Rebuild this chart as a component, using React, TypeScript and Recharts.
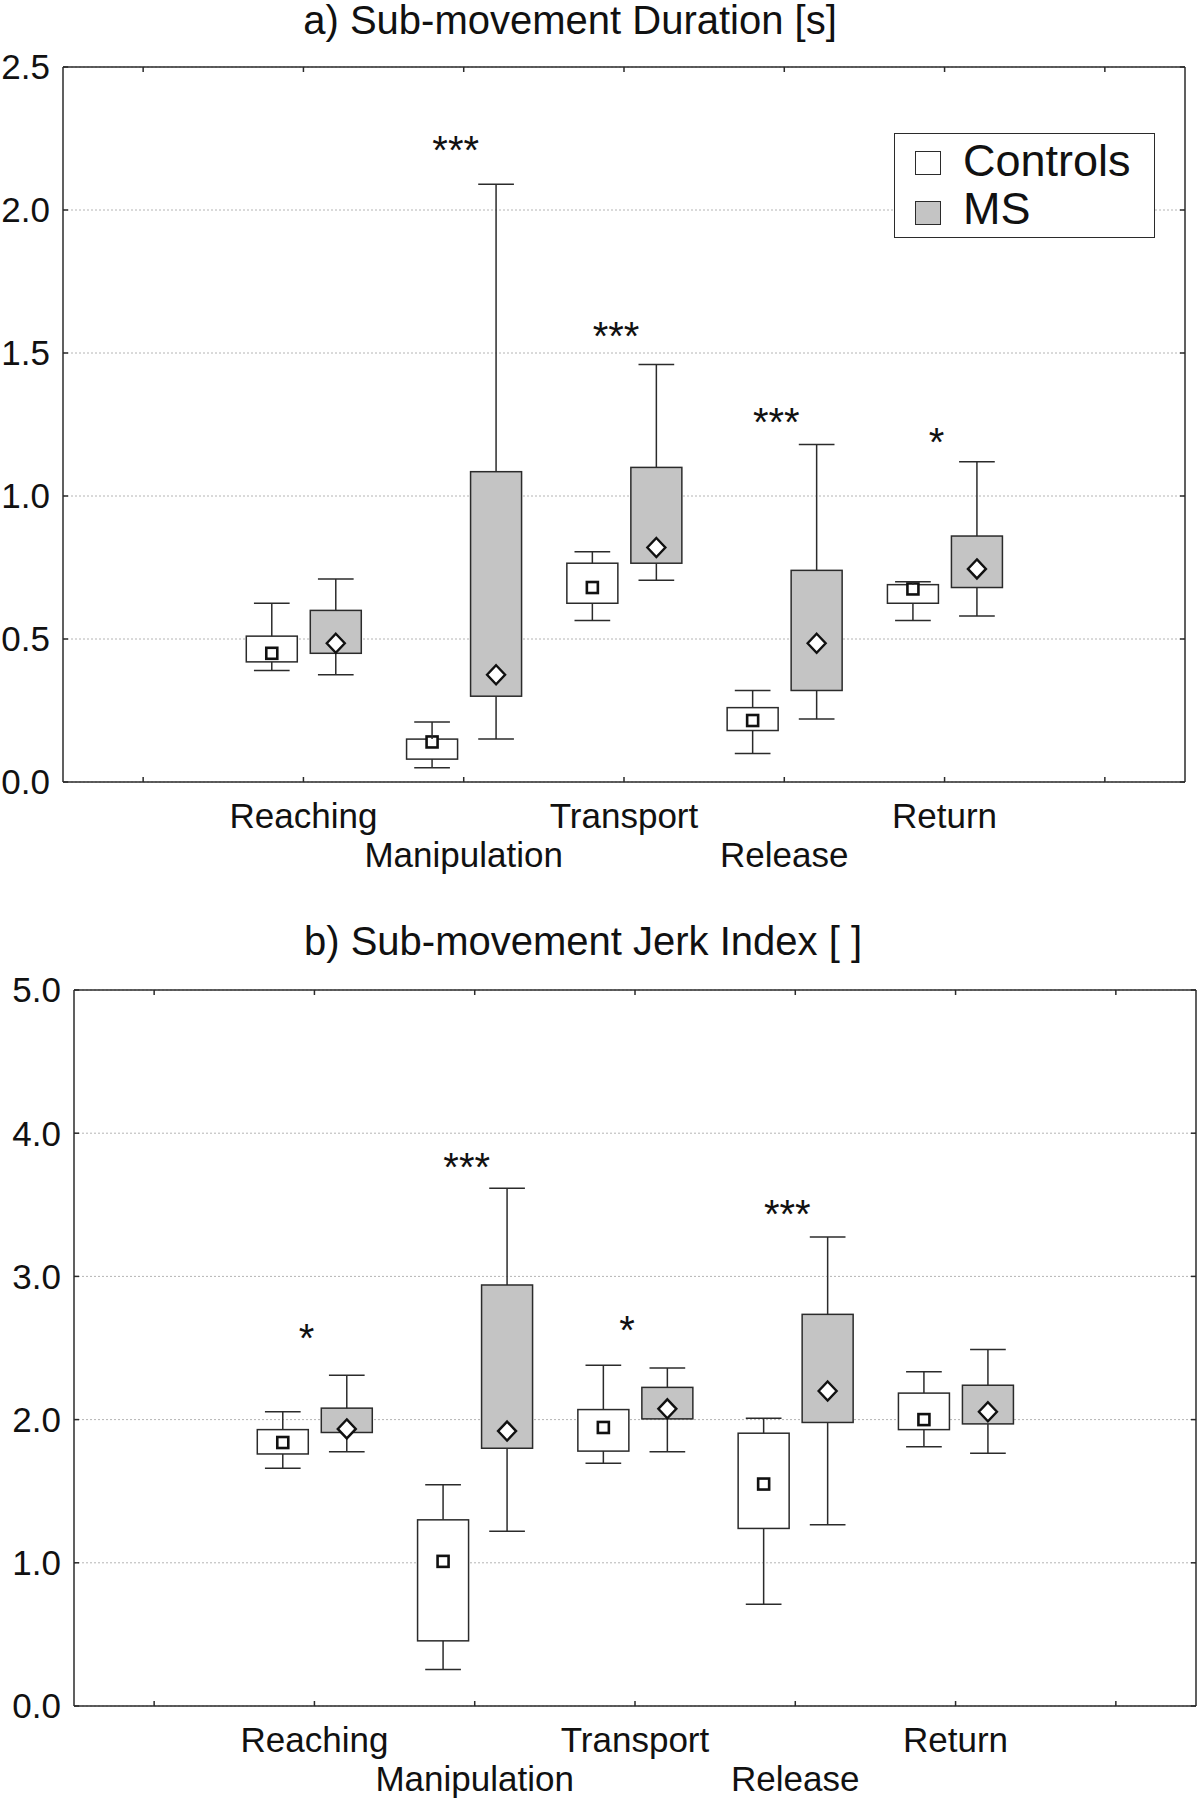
import React from "react";
import { ComposedChart, Bar, Scatter, XAxis, YAxis, CartesianGrid, Legend } from "recharts";

const categories = ["Reaching", "Manipulation", "Transport", "Release", "Return"];
const groupNames = ["Controls", "MS"];

// a) sub-movement duration [s]
const durCtrlMin = [0.39, 0.05, 0.565, 0.1, 0.565];
const durCtrlQ1 = [0.42, 0.08, 0.625, 0.18, 0.625];
const durCtrlQ3 = [0.51, 0.15, 0.765, 0.26, 0.69];
const durCtrlMax = [0.625, 0.21, 0.805, 0.32, 0.7];
const durCtrlMean = [0.45, 0.14, 0.68, 0.215, 0.675];
const durMsMin = [0.375, 0.15, 0.705, 0.22, 0.58];
const durMsQ1 = [0.45, 0.3, 0.765, 0.32, 0.68];
const durMsQ3 = [0.6, 1.085, 1.1, 0.74, 0.86];
const durMsMax = [0.71, 2.09, 1.46, 1.18, 1.12];
const durMsMean = [0.485, 0.375, 0.82, 0.485, 0.745];
const durSig = ["", "***", "***", "***", "*"];
const durSigLevel = [0, 2.24, 1.59, 1.29, 1.22];
const durTicks = [0, 0.5, 1, 1.5, 2, 2.5];

// b) sub-movement jerk index
const jerkCtrlMin = [1.66, 0.255, 1.695, 0.71, 1.81];
const jerkCtrlQ1 = [1.76, 0.455, 1.78, 1.24, 1.93];
const jerkCtrlQ3 = [1.93, 1.3, 2.07, 1.905, 2.185];
const jerkCtrlMax = [2.055, 1.545, 2.38, 2.01, 2.335];
const jerkCtrlMean = [1.84, 1.01, 1.945, 1.55, 2.0];
const jerkMsMin = [1.775, 1.22, 1.775, 1.265, 1.765];
const jerkMsQ1 = [1.91, 1.8, 2.005, 1.98, 1.97];
const jerkMsQ3 = [2.08, 2.94, 2.225, 2.735, 2.24];
const jerkMsMax = [2.31, 3.615, 2.36, 3.275, 2.49];
const jerkMsMean = [1.935, 1.92, 2.075, 2.2, 2.055];
const jerkSig = ["*", "***", "*", "***", ""];
const jerkSigLevel = [2.63, 3.83, 2.69, 3.5, 0];
const jerkTicks = [0, 1, 2, 3, 4, 5];

const FONT = '"Liberation Sans", Arial, Helvetica, sans-serif';
const INK = "#111";
const AXIS = "#2b2b2b";
const MS_FILL = "#c4c4c4";

type Stats = { min: number[]; q1: number[]; q3: number[]; max: number[]; mean: number[] };

function buildRows(c: Stats, m: Stats, sig: string[], sigLevel: number[]) {
  const rows: any[] = [{ name: "pad-left" }];
  categories.forEach((name, i) => {
    rows.push({
      name,
      cBase: c.min[i],
      cLow: c.q1[i] - c.min[i],
      cBox: c.q3[i] - c.q1[i],
      cHigh: c.max[i] - c.q3[i],
      cQ1: c.q1[i],
      cQ3: c.q3[i],
      cMean: c.mean[i],
      mBase: m.min[i],
      mLow: m.q1[i] - m.min[i],
      mBox: m.q3[i] - m.q1[i],
      mHigh: m.max[i] - m.q3[i],
      mQ1: m.q1[i],
      mQ3: m.q3[i],
      mMean: m.mean[i],
      sig: sig[i],
      sigY: sig[i] ? sigLevel[i] : null,
    });
  });
  rows.push({ name: "pad-right" });
  return rows;
}

const durRows = buildRows(
  { min: durCtrlMin, q1: durCtrlQ1, q3: durCtrlQ3, max: durCtrlMax, mean: durCtrlMean },
  { min: durMsMin, q1: durMsQ1, q3: durMsQ3, max: durMsMax, mean: durMsMean },
  durSig,
  durSigLevel
);
const jerkRows = buildRows(
  { min: jerkCtrlMin, q1: jerkCtrlQ1, q3: jerkCtrlQ3, max: jerkCtrlMax, mean: jerkCtrlMean },
  { min: jerkMsMin, q1: jerkMsQ1, q3: jerkMsQ3, max: jerkMsMax, mean: jerkMsMean },
  jerkSig,
  jerkSigLevel
);

const Empty = () => <g />;

function whiskerShape(end: "low" | "high") {
  return (p: any) => {
    const { x, y, width, height } = p;
    if (![x, y, width, height].every(Number.isFinite) || !height) return <g />;
    const top = Math.min(y, y + height);
    const bot = Math.max(y, y + height);
    const cx = x + width / 2;
    const capY = end === "high" ? top : bot;
    const half = width * 0.35;
    return (
      <g stroke={AXIS} strokeWidth={1.5}>
        <line x1={cx} x2={cx} y1={top} y2={bot} />
        <line x1={cx - half} x2={cx + half} y1={capY} y2={capY} />
      </g>
    );
  };
}

// box from q1..q3, mean marker placed with the same scale as the box edges
function boxShape(g: "c" | "m") {
  return (p: any) => {
    const { x, y, width, height, payload } = p;
    const q1 = payload?.[g + "Q1"];
    const q3 = payload?.[g + "Q3"];
    const mean = payload?.[g + "Mean"];
    if (q1 == null || !Number.isFinite(y) || !height) return <g />;
    const top = Math.min(y, y + height);
    const bot = Math.max(y, y + height);
    const my = top + ((q3 - mean) / (q3 - q1)) * (bot - top);
    const cx = x + width / 2;
    return (
      <g>
        <rect x={x} y={top} width={width} height={bot - top} fill={g === "c" ? "#fff" : MS_FILL} stroke={AXIS} strokeWidth={1.5} />
        {g === "c" ? (
          <rect x={cx - 5.5} y={my - 5.5} width={11} height={11} fill="#fff" stroke={INK} strokeWidth={2.6} />
        ) : (
          <polygon points={`${cx},${my - 9.5} ${cx + 9},${my} ${cx},${my + 9.5} ${cx - 9},${my}`} fill="#fff" stroke={INK} strokeWidth={2.4} />
        )}
      </g>
    );
  };
}

const StarMark = (p: any) => {
  const { cx, cy, payload } = p;
  if (!payload?.sig || !Number.isFinite(cy)) return <g />;
  return (
    <text x={cx - 8} y={cy + 23} textAnchor="middle" fontSize={40} fontFamily={FONT} fill={INK}>
      {payload.sig}
    </text>
  );
};

const CategoryTick = (p: any) => {
  const { x, y, payload } = p;
  const i = categories.indexOf(payload.value);
  if (i < 0) return <g />;
  return (
    <text x={x} y={y + (i % 2 === 0 ? 46 : 85)} textAnchor="middle" fontSize={35} fontFamily={FONT} fill={INK}>
      {payload.value}
    </text>
  );
};

const LegendBox = () => (
  <div
    style={{
      position: "relative",
      width: 261,
      height: 105,
      border: `1.5px solid ${AXIS}`,
      boxSizing: "border-box",
      background: "#fff",
      fontFamily: FONT,
    }}
  >
    {groupNames.map((n, i) => (
      <React.Fragment key={n}>
        <div
          style={{
            position: "absolute",
            left: 20,
            top: 17 + i * 50,
            width: 26,
            height: 24,
            boxSizing: "border-box",
            border: `1.5px solid ${AXIS}`,
            background: i ? MS_FILL : "#fff",
          }}
        />
        <div
          style={{
            position: "absolute",
            left: 68,
            top: 4 + i * 48,
            fontSize: 45,
            lineHeight: "45px",
            whiteSpace: "nowrap",
            color: INK,
          }}
        >
          {n}
        </div>
      </React.Fragment>
    ))}
  </div>
);

type PanelProps = {
  rows: any[];
  top: number;
  height: number;
  margin: { top: number; right: number; bottom: number; left: number };
  yMax: number;
  yTicks: number[];
  title: string;
  titleX: number;
  titleTop: number;
  legend?: boolean;
};

const Y_LABEL_W = 50;
const X_LABEL_H = 100;

function Panel({ rows, top, height, margin, yMax, yTicks, title, titleX, titleTop, legend }: PanelProps) {
  const axisLine = { stroke: AXIS, strokeWidth: 1.5 };
  // margins describe the plot box; axes take part of that space
  const chartMargin = {
    top: margin.top - 1,
    right: margin.right - 1,
    bottom: margin.bottom - X_LABEL_H,
    left: margin.left - Y_LABEL_W,
  };
  return (
    <div style={{ position: "absolute", left: 0, top, width: 1200, height }}>
      <div
        style={{
          position: "absolute",
          left: titleX,
          top: titleTop,
          transform: "translateX(-50%)",
          fontFamily: FONT,
          fontSize: 40,
          lineHeight: "40px",
          whiteSpace: "nowrap",
          color: INK,
          zIndex: 2,
        }}
      >
        {title}
      </div>
      <ComposedChart width={1200} height={height} data={rows} margin={chartMargin} barSize={51} barGap={13}>
        <CartesianGrid vertical={false} stroke="#b4b4b4" strokeDasharray="2 2" />
        <XAxis
          dataKey="name"
          type="category"
          interval={0}
          height={X_LABEL_H}
          axisLine={axisLine}
          tickLine={axisLine}
          tickSize={-5}
          tickMargin={5}
          tick={CategoryTick}
        />
        <XAxis
          xAxisId="top"
          orientation="top"
          dataKey="name"
          type="category"
          interval={0}
          height={1}
          axisLine={axisLine}
          tickLine={axisLine}
          tickSize={-5}
          tick={Empty}
        />
        <YAxis
          type="number"
          domain={[0, yMax]}
          ticks={yTicks}
          allowDataOverflow
          width={Y_LABEL_W}
          axisLine={axisLine}
          tickLine={axisLine}
          tickSize={-5}
          tickMargin={18}
          tickFormatter={(v: number) => v.toFixed(1)}
          tick={{ fontSize: 35, fill: INK, fontFamily: FONT }}
        />
        <YAxis
          yAxisId="right"
          orientation="right"
          type="number"
          domain={[0, yMax]}
          ticks={yTicks}
          allowDataOverflow
          width={1}
          axisLine={axisLine}
          tickLine={axisLine}
          tickSize={-5}
          tick={Empty}
        />
        <Bar dataKey="cBase" stackId="c" name="Controls" shape={Empty} isAnimationActive={false} />
        <Bar dataKey="cLow" stackId="c" shape={whiskerShape("low")} isAnimationActive={false} />
        <Bar dataKey="cBox" stackId="c" shape={boxShape("c")} isAnimationActive={false} />
        <Bar dataKey="cHigh" stackId="c" shape={whiskerShape("high")} isAnimationActive={false} />
        <Bar dataKey="mBase" stackId="m" name="MS" shape={Empty} isAnimationActive={false} />
        <Bar dataKey="mLow" stackId="m" shape={whiskerShape("low")} isAnimationActive={false} />
        <Bar dataKey="mBox" stackId="m" shape={boxShape("m")} isAnimationActive={false} />
        <Bar dataKey="mHigh" stackId="m" shape={whiskerShape("high")} isAnimationActive={false} />
        <Scatter dataKey="sigY" shape={StarMark} isAnimationActive={false} />
        {legend && (
          <Legend
            layout="vertical"
            align="center"
            verticalAlign="middle"
            content={LegendBox}
            wrapperStyle={{ left: 894, top: 133, width: 261, height: 105 }}
          />
        )}
      </ComposedChart>
    </div>
  );
}

export default function App() {
  return (
    <div style={{ position: "absolute", left: 0, top: 0, width: 1200, height: 1802, background: "#fff" }}>
      <Panel
        rows={durRows}
        top={0}
        height={900}
        margin={{ top: 67, right: 15, bottom: 118, left: 63 }}
        yMax={2.5}
        yTicks={durTicks}
        title="a) Sub-movement Duration [s]"
        titleX={570}
        titleTop={0}
        legend
      />
      <Panel
        rows={jerkRows}
        top={900}
        height={902}
        margin={{ top: 90, right: 4, bottom: 96, left: 74 }}
        yMax={5}
        yTicks={jerkTicks}
        title="b) Sub-movement Jerk Index [ ]"
        titleX={583}
        titleTop={21}
      />
    </div>
  );
}
